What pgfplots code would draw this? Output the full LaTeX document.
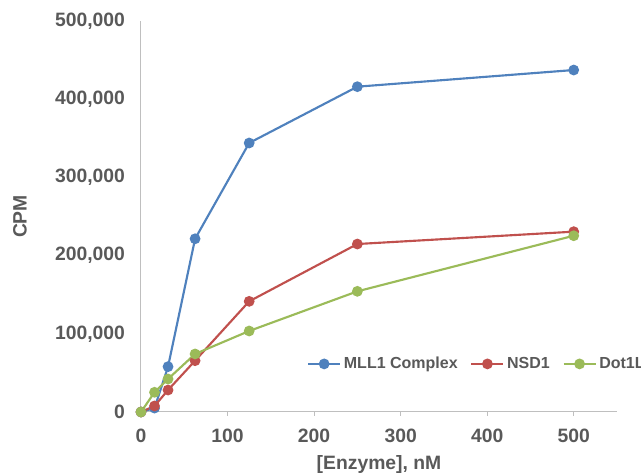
\documentclass[border=0pt]{standalone}
\usepackage{pgfplots}
\pgfplotsset{compat=1.18}
\usepackage{fontspec}
\setmainfont{Liberation Sans}
\definecolor{mblue}{HTML}{4F81BD}
\definecolor{mred}{HTML}{C0504D}
\definecolor{mgreen}{HTML}{9BBB59}
\definecolor{txt}{HTML}{595959}
\definecolor{axgray}{HTML}{BFBFBF}
\begin{document}
\begin{tikzpicture}
\useasboundingbox (-105.75pt,-45.75pt) rectangle (375pt,309pt);
\begin{axis}[
  at={(0,0)}, anchor=south west,
  scale only axis,
  width=357pt, height=293.25pt,
  xmin=0, xmax=550, ymin=0, ymax=500000,
  axis x line*=bottom, axis y line*=left,
  axis line style={axgray, line width=0.75pt, -},
  xtick={0,100,200,300,400,500},
  ytick={0,100000,200000,300000,400000,500000},
  scaled y ticks=false,
  /pgf/number format/assume math mode=true,
  yticklabel style={/pgf/number format/fixed, /pgf/number format/precision=0, /pgf/number format/1000 sep={,}, xshift=-8.5pt},
  ticklabel style={font=\fontsize{14.5}{16}\selectfont\bfseries, text=txt},
  xticklabel style={yshift=-6.5pt},
  x tick style={axgray, line width=0.75pt},
  xtick align=outside, major tick length=3pt,
  y tick style={draw=none},
  xlabel={[Enzyme], nM}, ylabel={CPM},
  label style={font=\fontsize{14.5}{16}\selectfont\bfseries, text=txt},
  xlabel style={at={([yshift=-39.5pt]axis description cs:0.5,0)}, anchor=center},
  ylabel style={at={([xshift=-90.75pt]axis description cs:0,0.5)}, anchor=center},
  legend columns=3,
  legend style={draw=none, fill=none, at={(rel axis cs:0.34,0.123)}, anchor=west,
    font=\fontsize{12}{14}\selectfont\bfseries, text=txt,
    /tikz/every even column/.append style={column sep=7.5pt}},
  legend image code/.code={\draw[mark repeat=2,mark phase=2] plot coordinates {(0pt,0pt) (12pt,0pt) (24pt,0pt)};},
  every axis plot/.append style={line width=1.6pt, mark=*, mark size=3.2pt},
  clip=false,
]
\addplot[mblue, mark options={fill=mblue, draw=mblue}] coordinates {
 (0,0) (15.625,5000) (31.25,58000) (62.5,221500) (125,344000) (250,416000) (500,437300)};
\addlegendentry{MLL1 Complex}
\addplot[mred, mark options={fill=mred, draw=mred}] coordinates {
 (0,0) (15.625,7700) (31.25,28100) (62.5,65600) (125,141500) (250,214800) (500,230600)};
\addlegendentry{NSD1}
\addplot[mgreen, mark options={fill=mgreen, draw=mgreen}] coordinates {
 (0,0) (15.625,25200) (31.25,42200) (62.5,74200) (125,103600) (250,154300) (500,225400)};
\addlegendentry{Dot1L}
\end{axis}
\end{tikzpicture}
\end{document}
